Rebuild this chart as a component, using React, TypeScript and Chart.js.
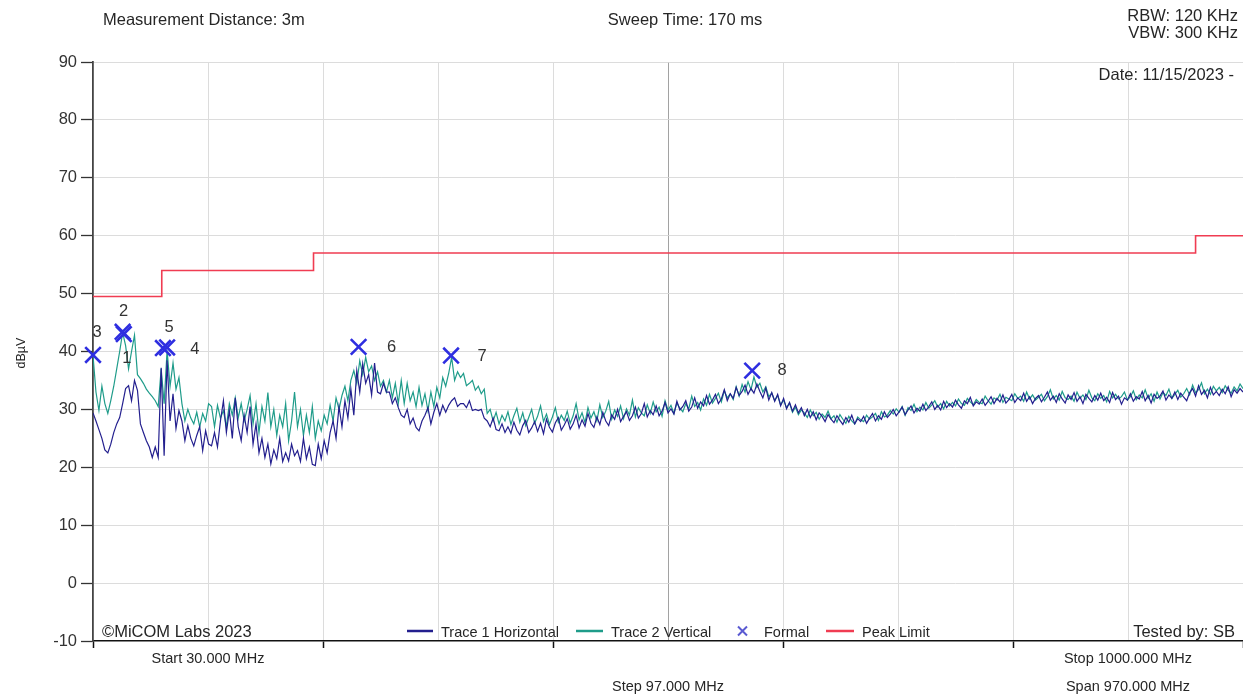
import React, { useEffect, useRef } from "react";
import { Chart, registerables } from "chart.js";

Chart.register(...registerables);

// ---------- DATA ----------
const sweepStartMHz = 30;
const sweepStepMHz = 2.5; // trace sample spacing

// Trace 1 Horizontal (dBµV), one value every 2.5 MHz from 30 to 1000 MHz
const trace1Horizontal = [
  29.4, 28.0, 26.5, 25.0, 23.0, 22.5, 24.0, 26.0, 27.5, 28.6,
  31.0, 33.6, 34.1, 31.5, 35.0, 33.3, 27.5, 26.0, 24.6, 23.5,
  21.7, 23.5, 21.7, 37.2, 22.0, 38.5, 28.0, 32.7, 26.7, 29.8,
  28.0, 24.6, 27.2, 25.0, 23.7, 25.5, 27.0, 22.9, 26.3, 24.0,
  23.7, 26.0, 23.5, 28.0, 31.5, 26.0, 29.8, 25.0, 32.0, 27.0,
  24.6, 29.0, 26.0, 30.5, 24.0, 27.5, 22.5, 25.0, 21.7, 24.0,
  20.6, 23.0, 21.5, 25.0, 21.0, 22.5, 21.1, 24.0, 22.0, 22.9,
  21.0, 25.0, 21.5, 23.5, 20.5, 20.3, 24.0, 21.5, 24.6, 22.5,
  26.0, 28.0, 25.0, 30.5, 27.0, 31.5, 28.5, 33.5, 29.0, 36.7,
  33.0, 37.9, 34.5, 36.0, 32.5, 38.0, 33.0, 32.7, 34.5, 33.0,
  33.0, 31.0, 32.0, 30.3, 29.0, 28.6, 30.0, 27.5, 28.5, 26.9,
  26.3, 28.0, 29.0, 30.3, 27.5, 29.5, 31.0, 29.0, 30.7, 29.5,
  30.7, 31.5, 32.0, 30.5, 31.0, 31.0, 30.3, 31.5, 29.8, 30.0,
  29.8, 30.0, 28.5, 28.0, 27.0, 28.5, 26.5, 26.3, 27.5, 26.0,
  27.0, 25.9, 27.8, 26.4, 25.6, 27.2, 28.1, 26.0, 26.8, 27.9,
  26.2, 27.6, 25.8, 28.3, 26.9, 26.1, 27.7, 28.6, 26.4, 27.3,
  28.4, 26.6, 27.5, 29.0, 26.8, 28.2, 27.1, 29.3, 27.6, 26.9,
  28.7, 27.4, 29.5, 28.0, 27.2, 29.1, 28.3, 30.0, 27.9, 28.8,
  29.6, 28.1, 28.9, 30.4, 28.5, 29.3, 31.0, 28.7, 29.8, 29.1,
  30.6, 28.9, 29.7, 31.2, 29.4, 30.1, 29.2, 31.4, 29.9, 30.5,
  31.5, 29.7, 30.4, 32.0, 30.2, 31.3, 30.6, 32.4, 30.9, 31.6,
  32.6, 31.0, 31.8, 33.4, 31.5, 32.7, 31.9, 33.8, 32.4, 33.1,
  34.2, 32.6, 33.6, 32.8, 34.4, 33.1, 32.0, 33.7, 31.6, 32.9,
  31.4, 32.6, 30.6, 31.9, 30.1, 31.2, 29.7, 30.8, 29.4, 30.3,
  28.9, 30.0, 28.6, 29.6, 28.2, 29.4, 28.8, 27.9, 29.1, 28.3,
  27.7, 28.9, 28.1, 27.4, 28.6, 27.8, 29.0, 27.5, 28.4, 27.9,
  28.8, 27.6, 28.5, 29.3, 28.0, 28.9, 28.3, 29.6, 28.6, 29.2,
  30.0, 28.9, 29.6, 30.4, 29.1, 29.9, 30.6, 29.4, 30.2, 29.7,
  30.9, 29.8, 30.5, 31.3, 30.0, 30.7, 29.9, 31.4, 30.3, 31.0,
  30.4, 31.6, 30.8, 30.2, 31.5, 31.0, 32.1, 30.6, 31.3, 30.9,
  31.8, 30.7, 31.4, 32.2, 31.0, 31.9, 31.3, 32.5, 31.1, 31.7,
  32.6, 31.2, 32.0, 31.5, 32.8, 31.4, 32.2, 31.0, 31.9, 32.4,
  31.3, 32.1, 33.0, 31.6, 32.3, 31.2, 32.7, 31.8, 31.1, 32.5,
  31.7, 32.9, 31.4, 32.2, 31.0, 32.6, 31.9, 31.3, 32.4, 31.6,
  32.8, 31.5, 32.1, 31.2, 32.9, 31.7, 32.3, 30.9, 32.0, 31.6,
  32.7, 31.4, 32.2, 31.8, 33.1, 31.5, 32.4, 31.1, 32.6, 31.9,
  32.3, 33.2, 31.6, 32.5, 31.9, 33.0, 31.7, 32.8, 32.1, 31.5,
  32.9, 33.6, 32.3, 34.1, 32.6, 33.3, 32.0, 33.8, 32.5, 33.1,
  32.4, 33.5, 32.7, 33.9, 32.2, 33.4, 32.8, 33.6, 33.0,
];

// Trace 2 Vertical (dBµV), same frequency grid
const trace2Vertical = [
  39.3, 33.0, 29.8, 34.0, 31.0, 29.3, 31.5, 34.0, 37.0, 40.0,
  43.3, 41.0, 37.0, 40.0, 42.8, 36.0, 35.3, 34.5, 33.5, 32.8,
  32.2, 31.5, 30.5, 37.0, 31.0, 40.2, 34.0, 38.0, 33.5, 35.5,
  31.0, 28.0, 30.0, 28.5, 27.5, 29.5, 27.0, 29.3, 28.0, 31.0,
  30.5, 27.0, 30.7, 28.5, 29.8, 27.0, 31.0, 29.0, 32.0, 28.5,
  31.0, 28.0, 30.0, 32.4, 27.5, 31.0, 26.0, 30.5, 28.0, 32.9,
  27.0, 30.0, 25.5, 29.0, 27.0, 31.0, 24.6, 28.0, 33.0, 27.0,
  30.0, 25.5, 29.0, 26.0, 30.5, 25.0, 28.0, 26.3, 29.0, 27.5,
  30.7, 28.0, 32.0, 30.0, 32.4, 34.0, 31.5, 35.0, 36.7, 34.5,
  38.4, 36.0, 39.0, 36.5, 37.5, 35.0, 36.5, 34.0, 35.0, 33.0,
  35.0, 32.0, 34.5, 31.0, 35.0, 31.0, 34.5, 31.5, 33.0, 30.5,
  33.8, 30.7, 32.7, 29.8, 33.0, 30.5, 33.8, 32.0, 35.5, 34.0,
  36.2, 39.0, 35.0, 36.5, 35.5, 36.2, 34.1, 34.5, 35.0, 33.3,
  34.0, 32.7, 33.5, 29.3, 30.0, 28.0, 29.5, 27.5, 29.0, 28.0,
  29.6, 27.4, 28.9, 30.2, 27.8, 29.4, 27.2, 28.6, 30.0, 27.6,
  28.8, 30.6, 27.9, 29.2, 27.4, 28.7, 30.3, 27.8, 29.0, 28.1,
  29.7, 27.6, 28.9, 31.0, 28.2, 29.4, 27.7, 30.3, 28.5, 29.6,
  28.0, 30.8, 28.6, 29.7, 31.4, 28.3, 29.9, 28.8, 30.6, 28.4,
  30.1, 29.0, 31.6, 28.7, 30.3, 29.4, 28.9, 30.8, 29.3, 31.3,
  29.6, 30.4, 28.8, 31.5, 29.9, 30.7, 29.3, 31.1, 30.2, 29.6,
  31.0, 30.1, 32.3, 30.5, 31.2, 29.9, 31.8, 30.7, 32.6, 31.1,
  31.9, 32.8, 31.3, 33.2, 32.0, 32.7, 31.7, 33.9, 32.3, 34.3,
  33.0, 34.8, 33.4, 35.6, 33.8, 34.5, 33.0, 33.9, 32.2, 32.8,
  31.5, 32.4, 30.8, 31.6, 30.3, 31.1, 29.5, 30.4, 29.1, 29.9,
  29.4, 28.6, 29.9, 28.9, 29.5, 28.3, 29.2, 28.6, 29.7, 28.4,
  28.9, 27.8, 29.1, 28.3, 27.6, 28.8, 28.0, 27.5, 28.7, 28.2,
  27.9, 29.0, 28.3, 28.7, 29.3, 28.1, 29.6, 28.7, 29.0, 29.8,
  29.2, 30.1, 29.5, 30.5, 29.0, 30.3, 29.8, 30.9, 29.6, 30.4,
  29.9, 31.2, 30.2, 30.8, 31.5, 30.4, 31.0, 30.1, 31.4, 30.6,
  31.2, 30.6, 31.8, 31.0, 30.7, 31.9, 31.3, 30.8, 31.7, 31.2,
  31.0, 32.3, 31.5, 30.9, 32.0, 31.6, 32.6, 31.2, 32.1, 31.8,
  31.5, 32.7, 31.9, 32.3, 31.4, 33.0, 31.8, 32.5, 31.6, 32.1,
  32.6, 31.5, 32.2, 33.4, 31.8, 32.4, 31.6, 33.1, 32.0, 31.7,
  32.3, 31.4, 33.0, 31.9, 32.5, 31.7, 33.3, 32.0, 31.5, 32.7,
  31.9, 32.4, 31.3, 33.1, 32.0, 32.6, 31.8, 32.2, 33.0, 31.6,
  32.2, 33.2, 31.7, 32.5, 32.0, 33.4, 31.9, 32.7, 31.4, 33.0,
  31.8, 32.9, 32.4, 33.5, 31.9, 32.6, 33.3, 32.1, 32.7, 33.6,
  32.5, 34.2, 32.9, 33.4, 34.6, 32.7, 33.5, 32.6, 34.0, 33.2,
  33.8, 32.9, 34.1, 33.3, 32.8, 33.9, 33.2, 34.4, 33.6,
];

// Peak limit (step changes)
const limitFreqs = [30, 88, 216, 960, 1000];
const limitLevels = [49.5, 54, 57, 60, 60];

// Formal markers
const markerIds = ["1", "2", "3", "4", "5", "6", "7", "8"];
const markerFreqs = [56, 55, 30, 89, 92.5, 254, 332, 586];
const markerLevels = [43.0, 43.4, 39.4, 40.6, 40.7, 40.8, 39.3, 36.7];

// Axes
const xGridFreqs = [30, 127, 224, 321, 418, 515, 612, 709, 806, 903, 1000];
const yTickValues = [-10, 0, 10, 20, 30, 40, 50, 60, 70, 80, 90];

// Texts
const headerLeft = "Measurement Distance: 3m";
const headerCenter = "Sweep Time: 170 ms";
const rbwText = "RBW: 120 KHz";
const vbwText = "VBW: 300 KHz";
const dateText = "Date: 11/15/2023 -";
const copyrightText = "©MiCOM Labs 2023";
const testedByText = "Tested by: SB";
const startText = "Start 30.000 MHz";
const stepText = "Step 97.000 MHz";
const stopText = "Stop 1000.000 MHz";
const spanText = "Span 970.000 MHz";
const yTitle = "dBµV";
const legendLabels = ["Trace 1 Horizontal", "Trace 2 Vertical", "Formal", "Peak Limit"];

// ---------- STYLE ----------
const FONT = '"Liberation Sans", Arial, sans-serif';
const TEXT = "#262626";
const C_T1 = "#231f8e";
const C_T2 = "#1f9c8a";
const C_LIMIT = "#f03c52";
const C_MARK = "#2e2ee0";
const C_LEG_MARK = "#5a5ad2";
const GRID = "#dcdcdc";
const GRID_CENTER = "#a2a2a2";
// label offsets (px) for marker numbers, same order as markerIds
const markerLabelOffsets = [
  [3, 24], [1, -20], [4, -23], [32, 1], [2, -20], [33, 1], [31, 1], [30, 0],
];

const overlayPlugin = {
  id: "emcOverlay",
  afterDraw(chart: any) {
    const { ctx, scales } = chart;
    const xs = scales.x;
    const ys = scales.y;
    const f = (s: number) => `${s}px ${FONT}`;
    ctx.save();
    ctx.fillStyle = TEXT;
    ctx.textBaseline = "alphabetic";

    // header
    ctx.font = f(16.5);
    ctx.textAlign = "left";
    ctx.fillText(headerLeft, 103, 25);
    ctx.textAlign = "center";
    ctx.fillText(headerCenter, 685, 25);
    ctx.textAlign = "right";
    ctx.fillText(rbwText, 1238, 21);
    ctx.fillText(vbwText, 1238, 38);
    ctx.fillText(dateText, 1234, 80);

    // footer inside plot
    ctx.textAlign = "left";
    ctx.fillText(copyrightText, 102, 637);
    ctx.textAlign = "right";
    ctx.fillText(testedByText, 1235, 637);

    // bottom sweep info
    ctx.font = f(14.5);
    ctx.textAlign = "center";
    ctx.fillText(startText, xs.getPixelForValue(xGridFreqs[1]), 663);
    ctx.fillText(stepText, xs.getPixelForValue(xGridFreqs[5]), 691);
    ctx.fillText(stopText, xs.getPixelForValue(xGridFreqs[9]), 663);
    ctx.fillText(spanText, xs.getPixelForValue(xGridFreqs[9]), 691);

    // legend
    const ly = 631;
    const lb = 636.5;
    ctx.lineWidth = 2.5;
    ctx.strokeStyle = C_T1;
    ctx.beginPath(); ctx.moveTo(407, ly); ctx.lineTo(433, ly); ctx.stroke();
    ctx.strokeStyle = C_T2;
    ctx.beginPath(); ctx.moveTo(576, ly); ctx.lineTo(603, ly); ctx.stroke();
    ctx.strokeStyle = C_LIMIT;
    ctx.beginPath(); ctx.moveTo(826, ly); ctx.lineTo(854, ly); ctx.stroke();
    ctx.strokeStyle = C_LEG_MARK;
    ctx.lineWidth = 2;
    ctx.beginPath();
    ctx.moveTo(738, ly - 4.5); ctx.lineTo(747, ly + 4.5);
    ctx.moveTo(747, ly - 4.5); ctx.lineTo(738, ly + 4.5);
    ctx.stroke();
    ctx.font = f(14.5);
    ctx.textAlign = "left";
    ctx.fillText(legendLabels[0], 441, lb);
    ctx.fillText(legendLabels[1], 611, lb);
    ctx.fillText(legendLabels[2], 764, lb);
    ctx.fillText(legendLabels[3], 862, lb);

    // marker numbers
    ctx.font = f(16.5);
    ctx.textAlign = "center";
    ctx.textBaseline = "middle";
    ctx.fillStyle = "#333";
    markerIds.forEach((id, i) => {
      const px = xs.getPixelForValue(markerFreqs[i]) + markerLabelOffsets[i][0];
      const py = ys.getPixelForValue(markerLevels[i]) + markerLabelOffsets[i][1];
      ctx.fillText(id, px, py);
    });

    // y title
    ctx.translate(22, 353);
    ctx.rotate(-Math.PI / 2);
    ctx.font = f(12.5);
    ctx.fillStyle = TEXT;
    ctx.fillText(yTitle, 0, 0);
    ctx.restore();
  },
};

export default function App() {
  const canvasRef = useRef<HTMLCanvasElement | null>(null);

  useEffect(() => {
    const canvas = canvasRef.current;
    if (!canvas) return;
    const toPts = (vals: number[]) =>
      vals.map((v, i) => ({ x: sweepStartMHz + sweepStepMHz * i, y: v }));

    const chart = new Chart(canvas, {
      type: "line",
      data: {
        datasets: [
          {
            label: "Formal",
            data: markerFreqs.map((x, i) => ({ x, y: markerLevels[i] })),
            showLine: false,
            clip: false,
            pointStyle: "crossRot",
            pointRadius: 11,
            pointHoverRadius: 11,
            pointBorderWidth: 2.6,
            pointBorderColor: C_MARK,
            pointBackgroundColor: "rgba(0,0,0,0)",
            borderColor: C_MARK,
          },
          {
            label: "Peak Limit",
            data: limitFreqs.map((x, i) => ({ x, y: limitLevels[i] })),
            stepped: "before",
            borderColor: C_LIMIT,
            borderWidth: 1.6,
            pointRadius: 0,
          },
          {
            label: "Trace 1 Horizontal",
            data: toPts(trace1Horizontal),
            borderColor: C_T1,
            borderWidth: 1.2,
            pointRadius: 0,
            tension: 0,
          },
          {
            label: "Trace 2 Vertical",
            data: toPts(trace2Vertical),
            borderColor: C_T2,
            borderWidth: 1.2,
            pointRadius: 0,
            tension: 0,
          },
        ],
      },
      options: {
        animation: false,
        responsive: false,
        devicePixelRatio: 1,
        events: [],
        layout: { autoPadding: false, padding: { top: 62, right: 0, left: 0, bottom: 0 } },
        plugins: {
          legend: { display: false },
          tooltip: { enabled: false },
          title: { display: false },
        },
        scales: {
          x: {
            type: "linear",
            min: 30,
            max: 1000,
            afterBuildTicks: (s: any) => {
              s.ticks = xGridFreqs.map((value) => ({ value }));
            },
            afterFit: (s: any) => {
              s.height = 53;
            },
            ticks: { display: false },
            grid: {
              color: (c: any) =>
                c.index === 0 ? "rgba(0,0,0,0)" : c.index === 5 ? GRID_CENTER : GRID,
              lineWidth: 1,
              drawTicks: true,
              tickLength: 7,
              tickWidth: 1.5,
              tickColor: (c: any) => (c.index % 2 === 0 ? "#111" : "rgba(0,0,0,0)"),
            },
            border: { display: true, color: "#111", width: 1.6 },
          },
          y: {
            type: "linear",
            min: -10,
            max: 90,
            afterBuildTicks: (s: any) => {
              s.ticks = yTickValues.map((value) => ({ value }));
            },
            afterFit: (s: any) => {
              s.width = 93;
            },
            ticks: {
              padding: 4,
              color: "#333",
              font: { family: FONT, size: 16.5 },
            },
            grid: {
              color: (c: any) => (c.tick && c.tick.value === -10 ? "rgba(0,0,0,0)" : GRID),
              lineWidth: 1,
              tickLength: 12,
              tickColor: "#333",
              tickWidth: 1.3,
            },
            border: { display: true, color: "#444", width: 1.8 },
          },
        },
      },
      plugins: [overlayPlugin],
    } as any);

    return () => chart.destroy();
  }, []);

  return (
    <div
      style={{
        position: "absolute",
        left: 0,
        top: 0,
        width: 1243,
        height: 694,
        background: "#fff",
      }}
    >
      <canvas ref={canvasRef} width={1243} height={694} style={{ display: "block" }} />
    </div>
  );
}
